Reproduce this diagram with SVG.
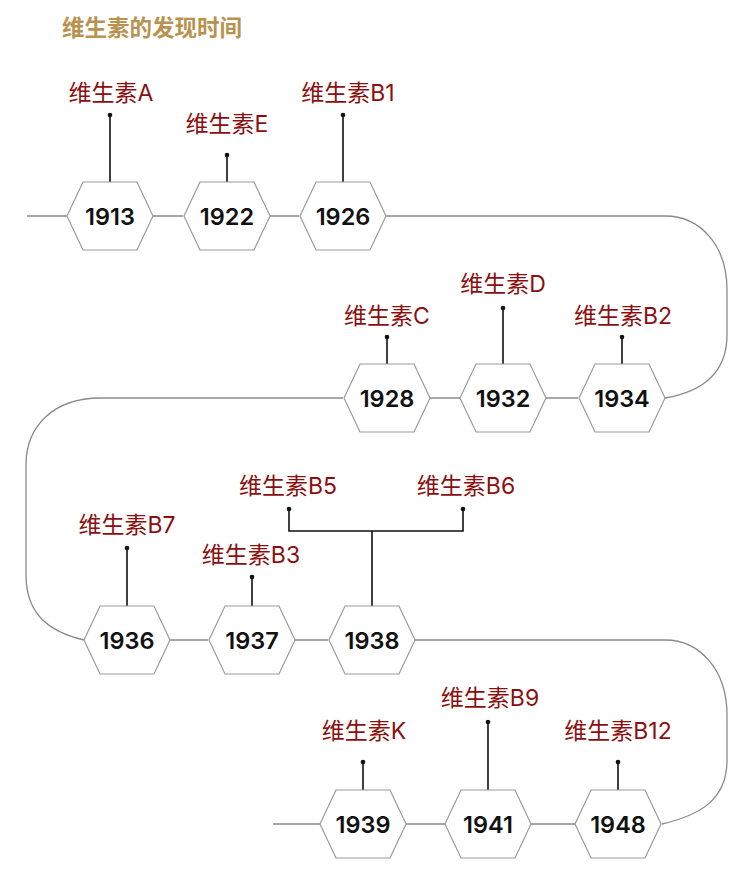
<svg xmlns="http://www.w3.org/2000/svg" width="750" height="881" viewBox="0 0 750 881">
<defs>
<style>
.hex{fill:#fff;stroke:#9a9a9a;stroke-width:1.2}
.conn{fill:none;stroke:#8a8a8a;stroke-width:1.3}
.stem{fill:none;stroke:#111;stroke-width:1.6}
.dot{fill:#111}
.yr{font-family:Inter,"Liberation Sans","Noto Sans CJK SC",sans-serif;font-size:23.5px;font-weight:600;fill:#111;text-anchor:middle}
.lbl{font-family:Inter,"Noto Sans CJK SC",sans-serif;font-size:23px;fill:#8b0f0f;text-anchor:middle}
.title{font-family:"Noto Sans CJK SC",sans-serif;font-size:22.5px;font-weight:700;fill:#b8924e}
</style>
<polygon id="hx" points="-43,0 -27,-34 27,-34 43,0 27,34 -27,34"/>
</defs>
<rect width="750" height="881" fill="#fff"/>
<text class="title" x="62" y="36">维生素的发现时间</text>
<g id="connectors">
<path class="conn" d="M27,216 H67 M153,216 H183 M270,216 H299 M386,216 H665 C700,216 727,245 727,290 V335 C727,375 700,392 665,398"/>
<path class="conn" d="M430,398 H460 M546,398 H578 M343,398 H100 C55,398 26,425 26,465 V575 C26,615 50,632 84,640"/>
<path class="conn" d="M170,640 H208 M295,640 H328 M415,640 H665 C700,640 727,670 727,715 V760 C727,800 700,815 662,824"/>
<path class="conn" d="M273,824 H320 M406,824 H445 M531,824 H575"/>
<path class="stem" d="M110,115 V191 M227,155 V191 M343,115 V191 M387,337 V373 M503,308 V373 M622,337 V373 M127,548 V615 M252,577 V614 M372,531 V614 M289,509 V531 H463 V509 M363,762 V798 M488,722 V798 M618,762 V798"/>
<g class="dot">
<circle cx="110" cy="115" r="2.3"/><circle cx="110" cy="191" r="2.3"/>
<circle cx="227" cy="155" r="2.3"/><circle cx="227" cy="191" r="2.3"/>
<circle cx="343" cy="115" r="2.3"/><circle cx="343" cy="191" r="2.3"/>
<circle cx="387" cy="337" r="2.3"/><circle cx="387" cy="373" r="2.3"/>
<circle cx="503" cy="308" r="2.3"/><circle cx="503" cy="373" r="2.3"/>
<circle cx="622" cy="337" r="2.3"/><circle cx="622" cy="373" r="2.3"/>
<circle cx="127" cy="548" r="2.3"/><circle cx="127" cy="615" r="2.3"/>
<circle cx="252" cy="577" r="2.3"/><circle cx="252" cy="614" r="2.3"/>
<circle cx="289" cy="509" r="2.3"/><circle cx="463" cy="509" r="2.3"/><circle cx="372" cy="614" r="2.3"/>
<circle cx="363" cy="762" r="2.3"/><circle cx="363" cy="798" r="2.3"/>
<circle cx="488" cy="722" r="2.3"/><circle cx="488" cy="798" r="2.3"/>
<circle cx="618" cy="762" r="2.3"/><circle cx="618" cy="798" r="2.3"/>
</g>
</g>
<g id="n1913"><use href="#hx" class="hex" x="110" y="216"/><text class="yr" x="110" y="225">1913</text></g>
<g id="n1922"><use href="#hx" class="hex" x="227" y="216"/><text class="yr" x="227" y="225">1922</text></g>
<g id="n1926"><use href="#hx" class="hex" x="343" y="216"/><text class="yr" x="343" y="225">1926</text></g>
<g id="n1928"><use href="#hx" class="hex" x="387" y="398"/><text class="yr" x="387" y="407">1928</text></g>
<g id="n1932"><use href="#hx" class="hex" x="503" y="398"/><text class="yr" x="503" y="407">1932</text></g>
<g id="n1934"><use href="#hx" class="hex" x="622" y="398"/><text class="yr" x="622" y="407">1934</text></g>
<g id="n1936"><use href="#hx" class="hex" x="127" y="640"/><text class="yr" x="127" y="649">1936</text></g>
<g id="n1937"><use href="#hx" class="hex" x="252" y="640"/><text class="yr" x="252" y="649">1937</text></g>
<g id="n1938"><use href="#hx" class="hex" x="372" y="640"/><text class="yr" x="372" y="649">1938</text></g>
<g id="n1939"><use href="#hx" class="hex" x="363" y="824"/><text class="yr" x="363" y="833">1939</text></g>
<g id="n1941"><use href="#hx" class="hex" x="488" y="824"/><text class="yr" x="488" y="833">1941</text></g>
<g id="n1948"><use href="#hx" class="hex" x="618" y="824"/><text class="yr" x="618" y="833">1948</text></g>
<g id="labels">
<text class="lbl" x="111" y="101">维生素A</text>
<text class="lbl" x="227" y="132">维生素E</text>
<text class="lbl" x="348" y="101">维生素B1</text>
<text class="lbl" x="387" y="324">维生素C</text>
<text class="lbl" x="503" y="292">维生素D</text>
<text class="lbl" x="623" y="324">维生素B2</text>
<text class="lbl" x="127" y="533">维生素B7</text>
<text class="lbl" x="251" y="563">维生素B3</text>
<text class="lbl" x="288" y="494">维生素B5</text>
<text class="lbl" x="466" y="494">维生素B6</text>
<text class="lbl" x="364" y="739">维生素K</text>
<text class="lbl" x="490" y="706">维生素B9</text>
<text class="lbl" x="618" y="739">维生素B12</text>
</g>
</svg>
